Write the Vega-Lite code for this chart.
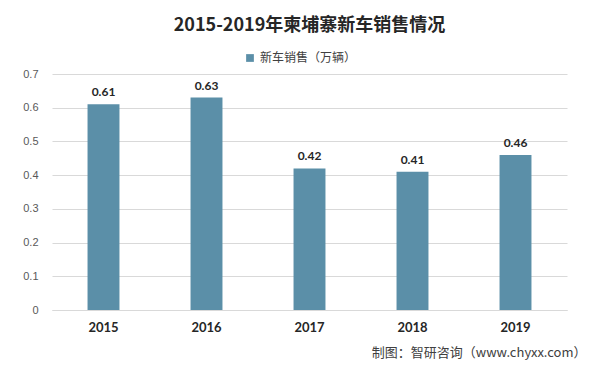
{
  "$schema": "https://vega.github.io/schema/vega-lite/v6.json",
  "width": 515,
  "height": 236,
  "autosize": {"type": "none"},
  "padding": {"left": 52, "top": 74, "right": 39, "bottom": 55},
  "background": "white",
  "title": {
    "text": "2015-2019年柬埔寨新车销售情况",
    "font": "Noto Sans CJK SC",
    "fontSize": 18,
    "fontWeight": "bold",
    "color": "#262626",
    "anchor": "middle",
    "offset": 17
  },
  "data": {
    "values": [
      {"year": "2015", "sales": 0.61, "series": "新车销售（万辆）"},
      {"year": "2016", "sales": 0.63, "series": "新车销售（万辆）"},
      {"year": "2017", "sales": 0.42, "series": "新车销售（万辆）"},
      {"year": "2018", "sales": 0.41, "series": "新车销售（万辆）"},
      {"year": "2019", "sales": 0.46, "series": "新车销售（万辆）"}
    ]
  },
  "encoding": {
    "x": {
      "field": "year",
      "type": "nominal",
      "scale": {"paddingInner": 0.69, "paddingOuter": 0.345},
      "axis": {
        "title": "制图：智研咨询（www.chyxx.com）",
        "titleFont": "Noto Sans CJK SC",
        "titleFontSize": 13,
        "titleFontWeight": "normal",
        "titleColor": "#404040",
        "titleAnchor": "end",
        "titleAlign": "right",
        "titleX": 534,
        "titlePadding": 12,
        "labelAngle": 0,
        "labelFont": "Lato",
        "labelFontSize": 13,
        "labelFontWeight": "bold",
        "labelColor": "#262626",
        "labelPadding": 11,
        "ticks": false,
        "domainColor": "#d9d9d9"
      }
    },
    "y": {
      "field": "sales",
      "type": "quantitative",
      "scale": {"domain": [0, 0.7]},
      "axis": {
        "title": null,
        "values": [0, 0.1, 0.2, 0.3, 0.4, 0.5, 0.6, 0.7],
        "format": "~g",
        "labelFont": "Liberation Sans",
        "labelFontSize": 11,
        "labelColor": "#595959",
        "labelPadding": 14,
        "ticks": false,
        "domain": false,
        "gridColor": "#d9d9d9"
      }
    }
  },
  "layer": [
    {
      "mark": {"type": "bar", "color": "#5b8fa8"},
      "encoding": {
        "color": {
          "field": "series",
          "type": "nominal",
          "scale": {"range": ["#5b8fa8"]},
          "legend": {
            "title": null,
            "orient": "none",
            "legendX": 192,
            "legendY": -22,
            "direction": "horizontal",
            "symbolType": "square",
            "symbolSize": 60,
            "labelFont": "Noto Sans CJK SC",
            "labelFontSize": 12,
            "labelColor": "#404040"
          }
        }
      }
    },
    {
      "mark": {"type": "text", "dy": -12, "font": "Lato", "fontSize": 12, "fontWeight": "bold", "color": "#262626"},
      "encoding": {"text": {"field": "sales", "type": "quantitative", "format": ".2f"}}
    }
  ],
  "config": {"view": {"stroke": null}}
}
